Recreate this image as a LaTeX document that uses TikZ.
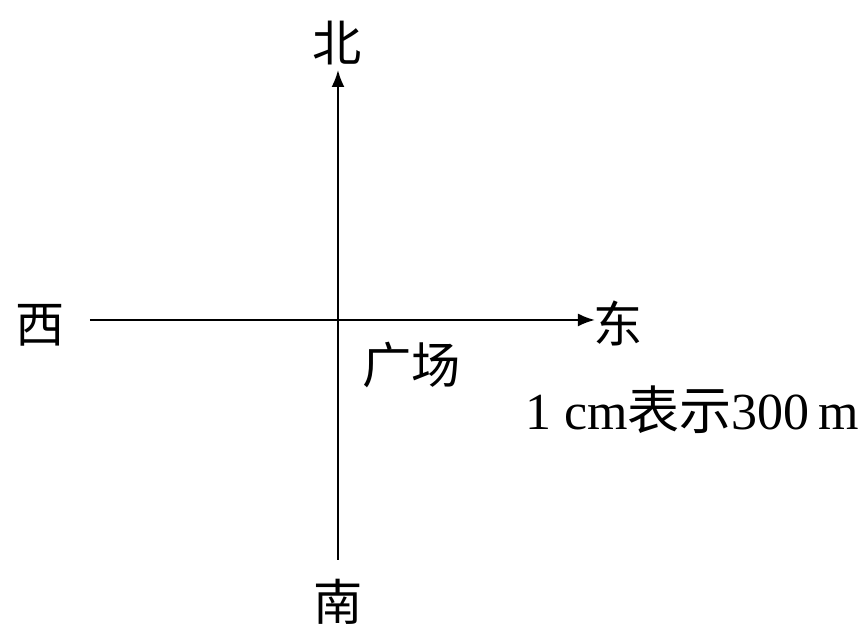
\documentclass[tikz,border=0pt]{standalone}
\usepackage{fontspec}
\setmainfont{Liberation Serif}
\newfontfamily\cjk{Noto Sans CJK SC}
\usetikzlibrary{arrows.meta,positioning}

\begin{document}
\begin{tikzpicture}[
  x=0.1mm,y=0.1mm,
  dir/.style={inner sep=0pt,font=\fontsize{14}{16}\selectfont\cjk},
  note/.style={inner sep=0pt,font=\fontsize{14.8}{17}\selectfont},
  axis/.style={-{Latex[length=1.7mm,width=1.3mm]},line width=0.6pt},
]
  \useasboundingbox (0,0) rectangle (861,624);

  % Axis ends
  \coordinate (o)  at (338,304);
  \coordinate (nt) at (338,554);
  \coordinate (sb) at (338,64);
  \coordinate (wl) at (90,304);
  \coordinate (et) at (595,304);

  % Directions
  \node[dir] (north) at (337,581) {北};
  \node[dir] (south) at (338,22)  {南};
  \node[dir] (west)  at (40,299)  {西};
  \node[dir] (east)  at (618,301) {东};

  % Axes
  \draw[axis] (wl) -- (et);
  \draw[axis] (sb) -- (nt);

  % Labels
  \node[dir] (square) at (412,259) {广场};
  \node[note] (scale) at (692,214) {1 cm{\cjk 表示}300\,m};
\end{tikzpicture}
\end{document}
